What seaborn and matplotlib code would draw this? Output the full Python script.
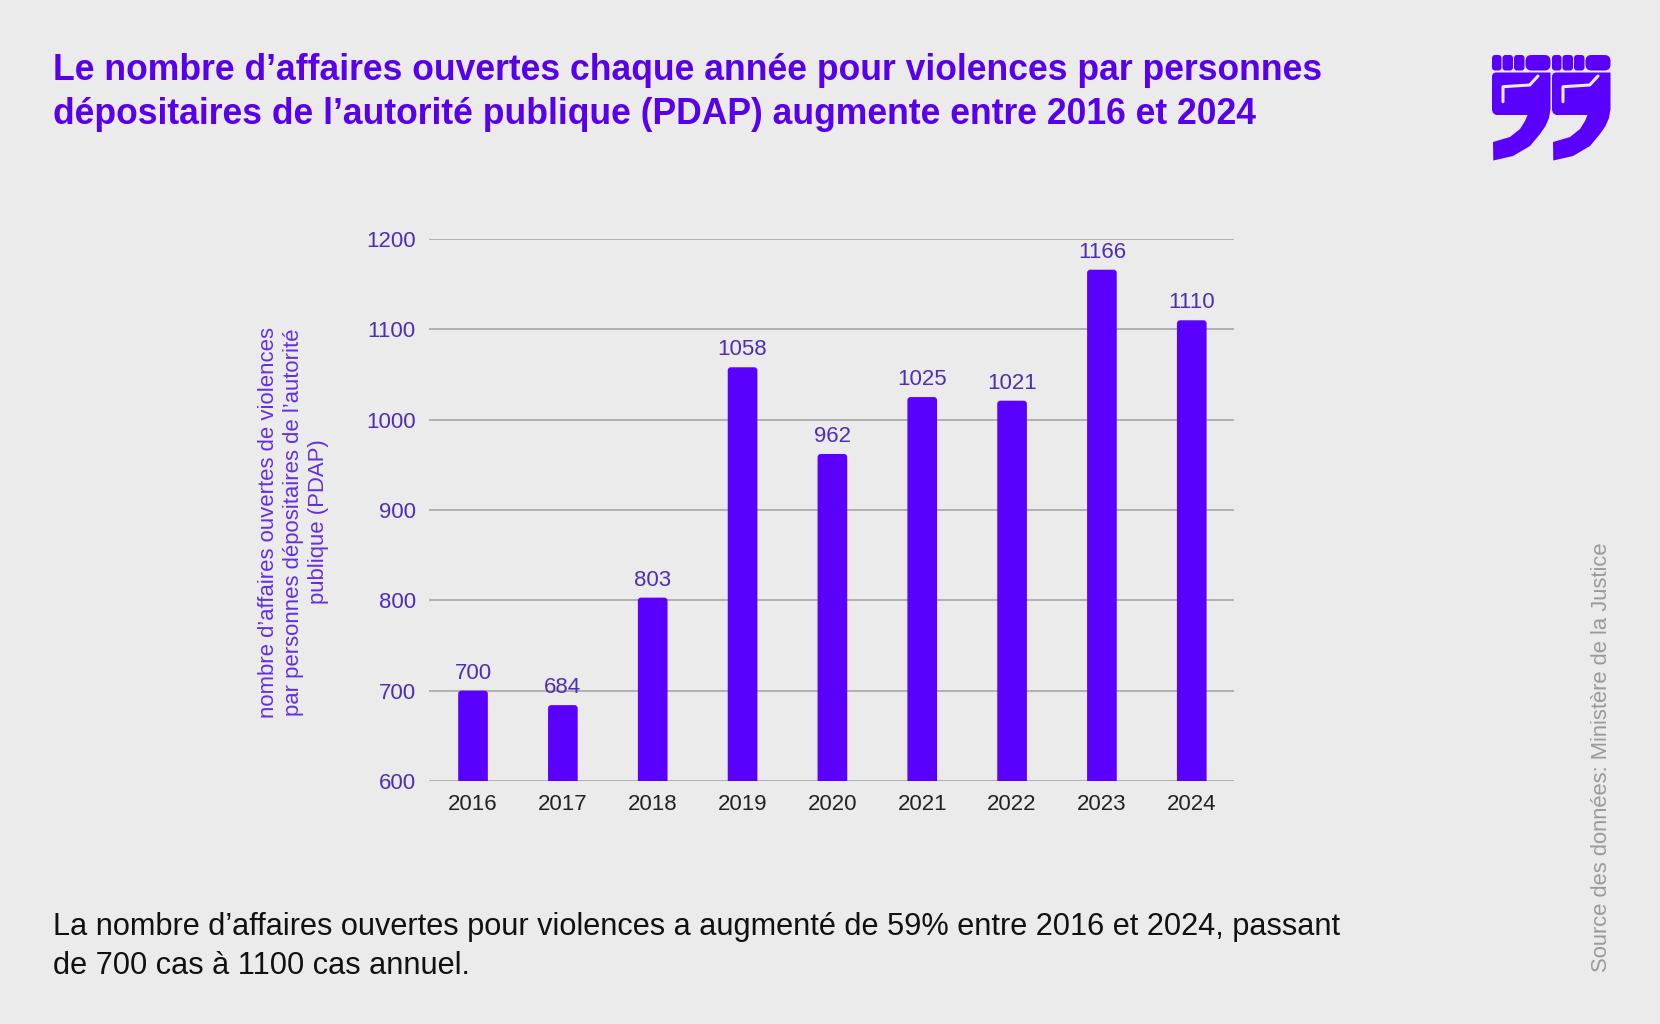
import matplotlib

matplotlib.use("Agg")
import matplotlib.pyplot as plt
import pandas as pd
import seaborn as sns
from matplotlib.lines import Line2D
from matplotlib.patches import FancyBboxPatch, Polygon
from matplotlib.transforms import Affine2D

# Données (Ministère de la Justice)
annees = ["2016", "2017", "2018", "2019", "2020", "2021", "2022", "2023", "2024"]
affaires = [700, 684, 803, 1058, 962, 1025, 1021, 1166, 1110]
graduations = [600, 700, 800, 900, 1000, 1100, 1200]

titre = (
    "Le nombre d\u2019affaires ouvertes chaque ann\u00e9e pour violences par personnes\n"
    "d\u00e9positaires de l\u2019autorit\u00e9 publique (PDAP) augmente entre 2016 et 2024"
)
label_y = (
    "nombre d\u2019affaires ouvertes de violences\n"
    "par personnes d\u00e9positaires de l\u2019autorit\u00e9\n"
    "publique (PDAP)"
)
commentaire = (
    "La nombre d\u2019affaires ouvertes pour violences a augment\u00e9 de 59% entre 2016 et 2024, passant\n"
    "de 700 cas \u00e0 1100 cas annuel."
)
source = "Source des donn\u00e9es: Minist\u00e8re de la Justice"

FOND = "#ebebeb"
VIOLET = "#5a00ff"
VIOLET_TITRE = "#5800ec"
VIOLET_TEXTE = "#4f2db4"
W, H = 1660, 1024

sns.set_theme(style="white")
plt.rcParams["font.family"] = ["Liberation Sans", "DejaVu Sans"]

df = pd.DataFrame({"annee": annees, "affaires": affaires})

fig = plt.figure(figsize=(W / 100, H / 100), dpi=100, facecolor=FOND)
ax = fig.add_axes([429 / W, 1 - 781 / H, (1234 - 429) / W, (781 - 239) / H])
ax.set_facecolor(FOND)

sns.barplot(data=df, x="annee", y="affaires", color=VIOLET, saturation=1, width=0.33, ax=ax)

ax.set_ylim(600, 1200)
ax.set_xlim(-0.49, 8.47)
ax.set_yticks(graduations)
ax.yaxis.grid(True, color="#a0a0a0", linewidth=1.1)
ax.set_axisbelow(True)
for s in ax.spines.values():
    s.set_visible(False)
ax.tick_params(axis="both", length=0, labelsize=16, labelcolor=VIOLET_TEXTE)
ax.tick_params(axis="y", pad=9.5)
ax.tick_params(axis="x", pad=9)
for t in ax.get_xticklabels():
    t.set_color("#222222")
ax.set_xlabel("")
ax.set_ylabel("")

# coins supérieurs arrondis
aspect = (600 / 542) * 90
for p in list(ax.patches):
    x, y = p.get_x(), p.get_y()
    w, h = p.get_width(), p.get_height()
    arrondi = FancyBboxPatch(
        (x, y), w, h,
        boxstyle="round,pad=0,rounding_size=0.035",
        mutation_aspect=aspect,
        facecolor=VIOLET, edgecolor="none", zorder=3,
    )
    p.remove()
    ax.add_patch(arrondi)

for i, v in enumerate(affaires):
    ax.annotate(str(v), (i, v), xytext=(0, 5), textcoords="offset points",
                ha="center", va="bottom", fontsize=16, color=VIOLET_TEXTE)

fig.text(53 / W, 1 - 53 / H, titre, ha="left", va="top", fontsize=25.6,
         fontweight="bold", color=VIOLET_TITRE, linespacing=1.32)
fig.text(293 / W, 1 - 522 / H, label_y, rotation=90, ha="center", va="center",
         multialignment="center", fontsize=15.9, color="#6230e0", linespacing=1.25)
fig.text(53 / W, 1 - 912 / H, commentaire, ha="left", va="top", fontsize=22.15,
         color="#111111", linespacing=1.4)
fig.text(1601 / W, 1 - 972 / H, source, rotation=90, ha="center", va="bottom",
         fontsize=15.8, color="#9a9a9a")

# logo (poing en guillemet), dessiné en pixels depuis le coin haut gauche
tr_px = Affine2D().scale(0.01, -0.01).translate(0, H / 100) + fig.dpi_scale_trans

corps = [(0, 22), (1, 19.5), (3.5, 18.5), (58.5, 18.5), (58.5, 55), (57, 64),
         (53.5, 72), (48, 80), (38, 92), (21, 102), (1.3, 106.5), (1, 88),
         (18, 83), (28, 75), (33, 67), (35.5, 61),
         (4, 61), (1, 59), (0, 56)]
doigts = [(0, 9.5), (10.5, 10.5), (22, 10.5), (33.5, 25)]
pouce = [(11, 47.7), (11, 32.7), (37.7, 31), (46, 22)]
for ox in (1492, 1552):
    oy = 54
    fig.patches.append(Polygon([(ox + a, oy + b) for a, b in corps], closed=True,
                               facecolor=VIOLET, edgecolor="none", transform=tr_px))
    for dx, dw in doigts:
        rayon = 6 if dw > 20 else 3
        fig.patches.append(FancyBboxPatch(
            (ox + dx, oy + 1), dw, 15.5,
            boxstyle=f"round,pad=0,rounding_size={rayon}",
            facecolor=VIOLET, edgecolor="none", transform=tr_px))
    fig.lines.append(Line2D([ox + a for a, b in pouce], [oy + b for a, b in pouce],
                            color=FOND, linewidth=2.2, transform=tr_px))

fig.savefig("out.png", dpi=100, facecolor=FOND)
